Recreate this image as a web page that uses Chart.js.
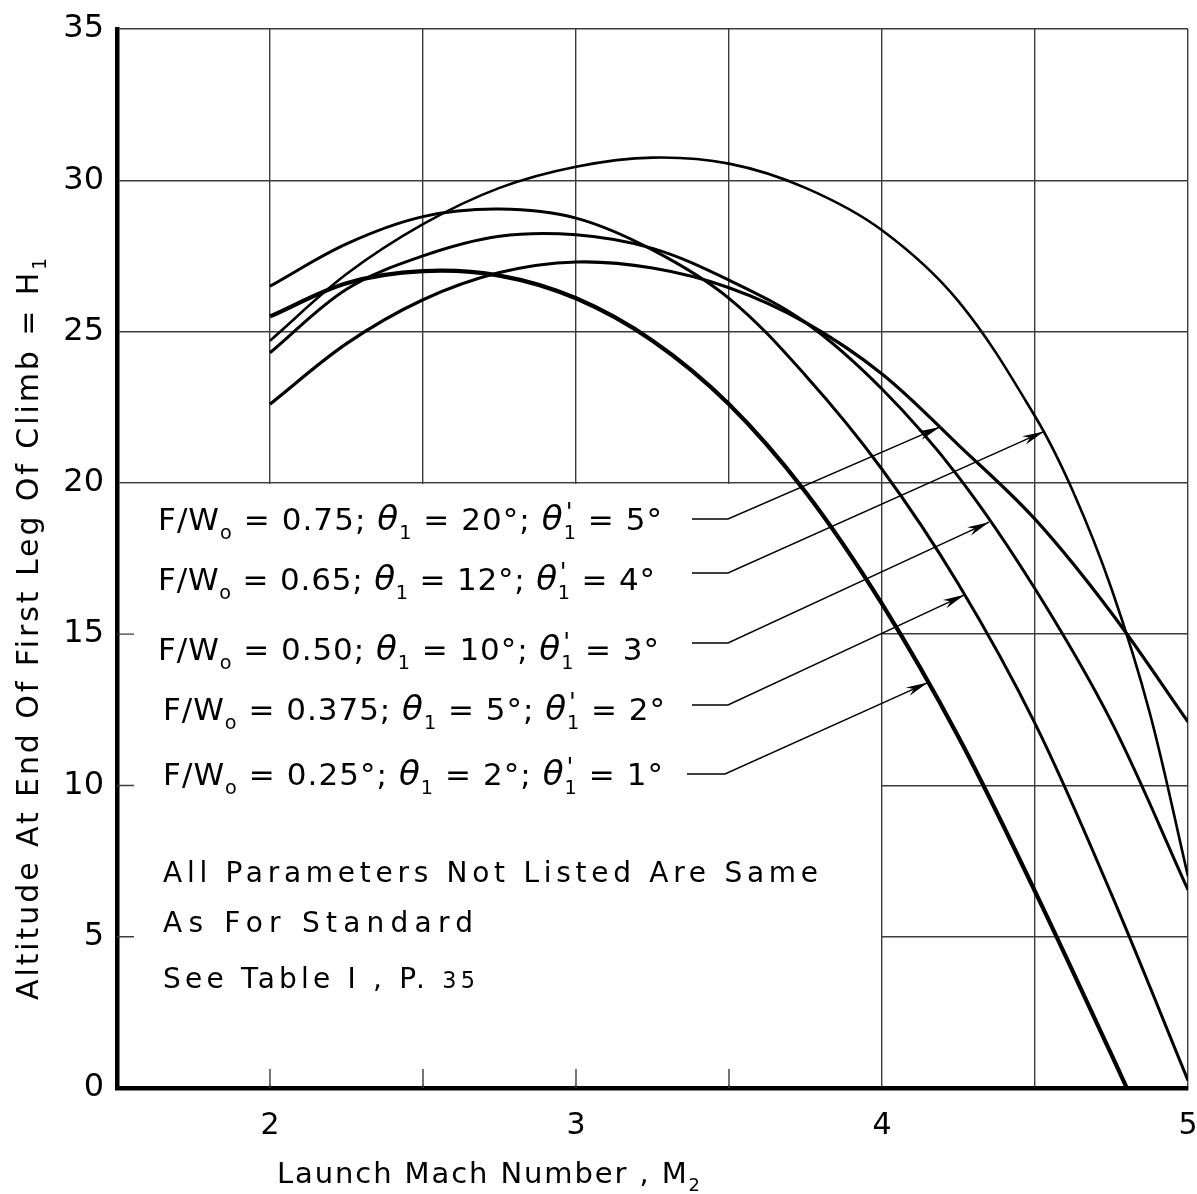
<!DOCTYPE html>
<html>
<head>
<meta charset="utf-8">
<title>Altitude at end of first leg of climb vs launch Mach number</title>
<script src="https://cdn.jsdelivr.net/npm/chart.js@4.4.1/dist/chart.umd.min.js"></script>
<style>
  html, body { margin: 0; padding: 0; background: #fff; }
  #wrap { width: 1197px; height: 1194px; position: relative; }
</style>
</head>
<body>
<div id="wrap"><canvas id="chart"></canvas></div>
<script>
// ---- data ----
const xTickLabels = [2, 3, 4, 5];
const yTickLabels = [0, 5, 10, 15, 20, 25, 30, 35];

// F/Wo = 0.75
const mach075 = [2.0, 2.25, 2.5, 2.75, 3.0, 3.25, 3.5, 3.75, 4.0, 4.25, 4.5, 4.75, 5.0];
const alt075  = [22.6, 24.6, 26.05, 26.95, 27.3, 27.1, 26.45, 25.3, 23.6, 21.25, 18.8, 15.7, 12.1];
// F/Wo = 0.65
const mach065 = [2.0, 2.25, 2.5, 2.75, 3.0, 3.25, 3.5, 3.75, 4.0, 4.25, 4.5, 4.625, 4.75, 4.875, 5.0];
const alt065  = [24.7, 26.9, 28.55, 29.75, 30.45, 30.75, 30.55, 29.75, 28.35, 26.0, 22.2, 19.7, 16.5, 12.4, 7.0];
// F/Wo = 0.50
const mach050 = [2.0, 2.25, 2.5, 2.75, 3.0, 3.25, 3.5, 3.75, 4.0, 4.25, 4.5, 4.75, 5.0];
const alt050  = [24.3, 26.4, 27.5, 28.15, 28.2, 27.75, 26.7, 25.3, 23.1, 20.2, 16.5, 12.1, 6.55];
// F/Wo = 0.375
const mach0375 = [2.0, 2.25, 2.5, 2.75, 3.0, 3.25, 3.5, 3.75, 4.0, 4.25, 4.5, 4.75, 5.0];
const alt0375  = [26.5, 27.9, 28.8, 29.05, 28.75, 27.7, 26.1, 23.55, 20.45, 16.65, 12.05, 6.4, 0.25];
// F/Wo = 0.25
const mach025 = [2.0, 2.25, 2.5, 2.75, 3.0, 3.25, 3.5, 3.75, 4.0, 4.25, 4.5, 4.75, 4.8];
const alt025  = [25.5, 26.6, 27.0, 26.85, 26.1, 24.7, 22.6, 19.7, 16.0, 11.6, 6.5, 1.1, 0.0];

// label text, in the order of the list on the figure
const thrustRatio = ['0.75', '0.65', '0.50', '0.375', '0.25°'];
const theta1      = ['20°', '12°', '10°', '5°', '2°'];
const theta1Prime = ['5°', '4°', '3°', '2°', '1°'];
// where each pointer arrow touches its curve (Mach, altitude)
const arrowMach = [4.19, 4.53, 4.35, 4.27, 4.15];
const arrowAlt  = [21.85, 21.7, 18.7, 16.3, 13.4];

const notes = ['All Parameters Not Listed Are Same', 'As For Standard', 'See Table I , P. '];

// ---- drawing ----
const FONT = "'DejaVu Sans', sans-serif";
const gridColor = '#3c3c3c';
Chart.defaults.font.family = FONT;
Chart.defaults.color = '#000';

const toPts = (xs, ys) => xs.map((m, i) => ({ x: m, y: ys[i] }));

// draws text made of parts (normal / italic / subscript / stacked sub+prime),
// stretched with letter spacing to a target width
function drawParts(ctx, parts, x, y, size, width) {
  const fontFor = t => t === 'it' ? `italic ${size * 1.1}px ${FONT}`
    : (t === 'sub' || t === 'ss') ? `${size * 0.62}px ${FONT}`
    : t === 'small' ? `${size * 0.8}px ${FONT}` : `${size}px ${FONT}`;
  ctx.letterSpacing = '0px';
  let w0 = 0, n = 0;
  const ws = parts.map(([txt, t]) => {
    ctx.font = fontFor(t);
    const s = t === 'ss' ? txt[0] : txt;
    const w = ctx.measureText(s).width;
    w0 += w; n += [...s].length;
    return w;
  });
  const ls = width && n > 1 ? (width - w0) / (n - 1) : 0;
  let cx = x;
  parts.forEach(([txt, t], i) => {
    ctx.font = fontFor(t);
    ctx.letterSpacing = ls + 'px';
    if (t === 'ss') {
      ctx.fillText(txt[0], cx, y + size * 0.28);
      ctx.letterSpacing = '0px';
      ctx.font = `${size * 0.8}px ${FONT}`;
      ctx.fillText(txt[1], cx + 2, y - size * 0.32);
      cx += ws[i] + ls;
      return;
    }
    const dy = t === 'sub' ? size * 0.28 : 0;
    ctx.fillText(txt, cx, y + dy);
    cx += ws[i] + [...txt].length * ls;
  });
  ctx.letterSpacing = '0px';
}

const overlay = {
  id: 'overlay',
  beforeDatasetsDraw(chart) {
    const { ctx, scales: { x, y } } = chart;
    const l = x.getPixelForValue(1.5), r = x.getPixelForValue(4);
    const t = y.getPixelForValue(20), b = y.getPixelForValue(0);
    ctx.save();
    // blank panel behind the labels (grid hidden there)
    ctx.fillStyle = '#fff';
    ctx.fillRect(l + 3, t + 1, r - l - 4, b - t - 4);
    // short tick stubs left on the axes inside the panel
    ctx.strokeStyle = gridColor;
    ctx.lineWidth = 1.4;
    ctx.beginPath();
    [2, 2.5, 3, 3.5].forEach(v => { const px = x.getPixelForValue(v); ctx.moveTo(px, b); ctx.lineTo(px, b - 19); });
    [5, 10, 15].forEach(v => { const py = y.getPixelForValue(v); ctx.moveTo(l, py); ctx.lineTo(l + 17, py); });
    ctx.stroke();
    ctx.restore();
  },
  afterDraw(chart) {
    const { ctx, scales: { x, y } } = chart;
    ctx.save();
    ctx.fillStyle = '#000';
    ctx.strokeStyle = '#000';
    ctx.textBaseline = 'alphabetic';
    ctx.textAlign = 'left';

    // curve labels
    const textX = [158, 158, 158, 163, 163];
    const textW = [504, 497, 501, 502, 500];
    const baseY = [530, 590, 660, 720, 785];
    const leadY = [519, 573, 643, 705, 774];
    thrustRatio.forEach((fw, i) => {
      const parts = [['F/W', 'n'], ['o', 'sub'], [' = ' + fw + '; ', 'n'], ['θ', 'it'], ['1', 'sub'],
        [' = ' + theta1[i] + '; ', 'n'], ['θ', 'it'], ["1'", 'ss'], [' = ' + theta1Prime[i], 'n']];
      drawParts(ctx, parts, textX[i], baseY[i], 31, textW[i]);

      // pointer: short horizontal run, then a slanted line to the curve with an arrowhead
      const x0 = i === 4 ? 687 : 692, x1 = i === 4 ? 725 : 728;
      const tx = x.getPixelForValue(arrowMach[i]), ty = y.getPixelForValue(arrowAlt[i]);
      ctx.lineWidth = 1.4;
      ctx.beginPath();
      ctx.moveTo(x0, leadY[i]);
      ctx.lineTo(x1, leadY[i]);
      ctx.lineTo(tx, ty);
      ctx.stroke();
      const ang = Math.atan2(ty - leadY[i], tx - x1);
      const L = 22, H = 4.5;
      ctx.beginPath();
      ctx.moveTo(tx, ty);
      ctx.lineTo(tx - L * Math.cos(ang) + H * Math.sin(ang), ty - L * Math.sin(ang) - H * Math.cos(ang));
      ctx.lineTo(tx - L * 0.7 * Math.cos(ang), ty - L * 0.7 * Math.sin(ang));
      ctx.lineTo(tx - L * Math.cos(ang) - H * Math.sin(ang), ty - L * Math.sin(ang) + H * Math.cos(ang));
      ctx.closePath();
      ctx.fill();
    });

    // notes
    drawParts(ctx, [[notes[0], 'n']], 163, 882, 28, 655);
    drawParts(ctx, [[notes[1], 'n']], 163, 932, 28, 310);
    drawParts(ctx, [[notes[2], 'n'], ['35', 'small']], 163, 988, 28, 312);

    // axis titles
    drawParts(ctx, [['Launch Mach Number , M', 'n'], ['2', 'sub']], 277, 1183, 29, 423);
    ctx.translate(38, 1000);
    ctx.rotate(-Math.PI / 2);
    drawParts(ctx, [['Altitude At End Of First Leg Of Climb = H', 'n'], ['1', 'sub']], 0, 0, 30, 742);
    ctx.restore();
  }
};

const series = [
  { label: 'F/Wo = 0.75', data: toPts(mach075, alt075), borderWidth: 3.2 },
  { label: 'F/Wo = 0.65', data: toPts(mach065, alt065), borderWidth: 2.6 },
  { label: 'F/Wo = 0.50', data: toPts(mach050, alt050), borderWidth: 3 },
  { label: 'F/Wo = 0.375', data: toPts(mach0375, alt0375), borderWidth: 3 },
  { label: 'F/Wo = 0.25', data: toPts(mach025, alt025), borderWidth: 4.2 }
];

new Chart(document.getElementById('chart'), {
  type: 'line',
  data: {
    datasets: series.map(s => ({
      ...s,
      borderColor: '#000',
      backgroundColor: '#000',
      pointRadius: 0,
      fill: false,
      tension: 0.35
    }))
  },
  options: {
    responsive: true,
    maintainAspectRatio: false,
    animation: false,
    events: [],
    layout: { padding: { top: 29, right: 9, left: 0, bottom: 0 } },
    plugins: { legend: { display: false }, tooltip: { enabled: false }, title: { display: false } },
    scales: {
      x: {
        type: 'linear', min: 1.5, max: 5,
        afterFit: s => { s.height = 106; s.paddingLeft = 0; s.paddingRight = 0; },
        border: { display: true, color: '#000', width: 4.5 },
        grid: { color: gridColor, lineWidth: 1.4, drawTicks: false },
        ticks: {
          stepSize: 0.5, autoSkip: false, maxRotation: 0, padding: 20,
          font: { size: 30 }, color: '#000',
          callback: v => xTickLabels.includes(v) ? String(v) : ''
        }
      },
      y: {
        type: 'linear', min: 0, max: 35,
        afterFit: s => { s.width = 117; s.paddingTop = 0; s.paddingBottom = 0; },
        border: { display: true, color: '#000', width: 4.5 },
        grid: { color: gridColor, lineWidth: 1.4, drawTicks: false },
        ticks: {
          stepSize: 5, padding: 13, font: { size: 32 }, color: '#000',
          callback: v => yTickLabels.includes(v) ? String(v) : ''
        }
      }
    }
  },
  plugins: [overlay]
});
</script>
</body>
</html>
